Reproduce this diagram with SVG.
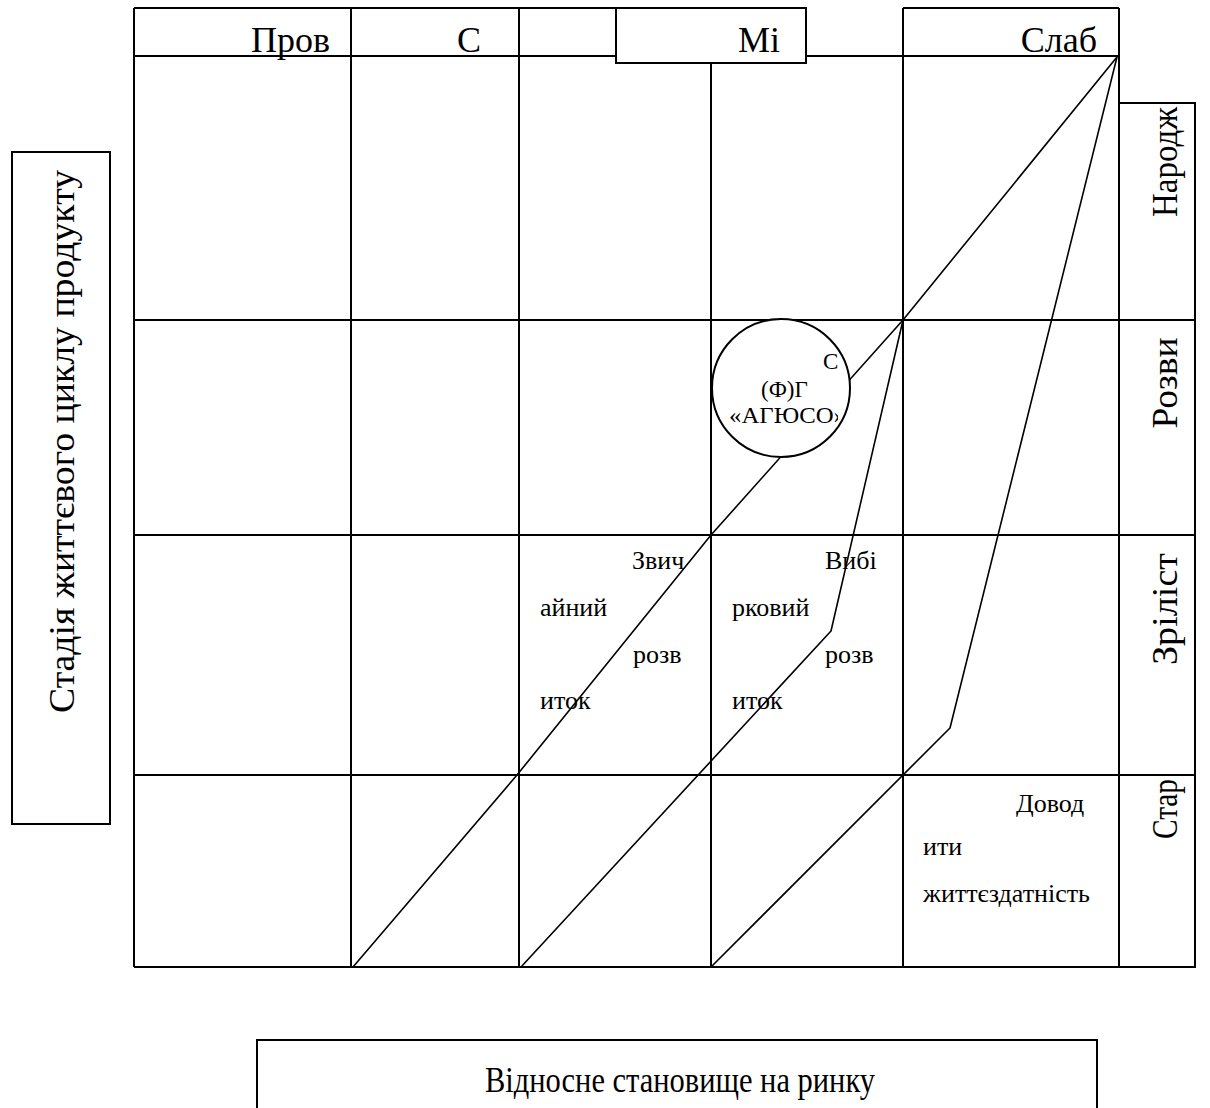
<svg xmlns="http://www.w3.org/2000/svg" width="1210" height="1108" viewBox="0 0 1210 1108">
<style>
.ln{stroke:#000;stroke-width:2;fill:none}
.dg{stroke:#000;stroke-width:1.6;fill:none;stroke-linejoin:round}
.bx{stroke:#000;stroke-width:2;fill:#fff}
.t{font-family:"Liberation Serif","Times New Roman",serif;fill:#000}
.h{font-size:36px}
.c{font-size:26px}
.s{font-size:23px}
</style>
<defs>
<clipPath id="cc"><rect x="700" y="320" width="138" height="140"/></clipPath>
</defs>
<rect width="1210" height="1108" fill="#fff"/>
<g id="grid">
<line class="ln" x1="134" y1="8" x2="616" y2="8"/>
<line class="ln" x1="134" y1="56" x2="1119" y2="56"/>
<line class="ln" x1="134" y1="320" x2="1195" y2="320"/>
<line class="ln" x1="134" y1="535" x2="1195" y2="535"/>
<line class="ln" x1="134" y1="775" x2="1195" y2="775"/>
<line class="ln" x1="134" y1="967" x2="1195" y2="967"/>
<line class="ln" x1="134" y1="8" x2="134" y2="967"/>
<line class="ln" x1="351" y1="8" x2="351" y2="967"/>
<line class="ln" x1="519" y1="8" x2="519" y2="967"/>
<line class="ln" x1="711" y1="63" x2="711" y2="967"/>
<line class="ln" x1="903" y1="8" x2="903" y2="967"/>
<line class="ln" x1="1119" y1="8" x2="1119" y2="967"/>
<line class="ln" x1="903" y1="8" x2="1119" y2="8"/>
<rect class="ln" x="1119" y="103" width="76" height="864"/>
</g>
<g id="connectors">
<polyline class="dg" points="1117,57 903,320 711,535 517,775 353,967"/>
<polyline class="dg" points="903,320 831,631 521,967"/>
<polyline class="dg" points="1117,57 950,728 711,967"/>
</g>
<g id="header-mi">
<rect class="bx" x="616" y="8" width="190" height="55"/>
<text class="t h" x="780" y="52" text-anchor="end">Мі</text>
</g>
<g id="header-prov"><text class="t h" x="330" y="52" text-anchor="end">Пров</text></g>
<g id="header-s"><text class="t h" x="481" y="52" text-anchor="end">С</text></g>
<g id="header-slab"><text class="t h" x="1097" y="52" text-anchor="end">Слаб</text></g>
<g id="stage-narodzh"><text class="t h" transform="translate(1177,162) rotate(-90)" text-anchor="middle" textLength="110" lengthAdjust="spacingAndGlyphs">Народж</text></g>
<g id="stage-rozvy"><text class="t h" transform="translate(1177,383) rotate(-90)" text-anchor="middle" textLength="91" lengthAdjust="spacingAndGlyphs">Розви</text></g>
<g id="stage-zrilist"><text class="t h" transform="translate(1177,609) rotate(-90)" text-anchor="middle" textLength="112" lengthAdjust="spacingAndGlyphs">Зріліст</text></g>
<g id="stage-star"><text class="t h" transform="translate(1177,809) rotate(-90)" text-anchor="middle" textLength="60" lengthAdjust="spacingAndGlyphs">Стар</text></g>
<g id="company">
<circle class="bx" cx="781" cy="388" r="69"/>
<g clip-path="url(#cc)">
<text class="t s" x="823" y="369">С</text>
<text class="t s" x="761" y="397">(Ф)Г</text>
<text class="t s" x="729" y="423" textLength="117" lengthAdjust="spacingAndGlyphs">«АГЮСО»</text>
</g>
</g>
<g id="usual">
<text class="t c" x="632" y="569">Звич</text>
<text class="t c" x="540" y="616">айний</text>
<text class="t c" x="633" y="663">розв</text>
<text class="t c" x="540" y="709">иток</text>
</g>
<g id="selective">
<text class="t c" x="825" y="569">Вибі</text>
<text class="t c" x="732" y="616">рковий</text>
<text class="t c" x="825" y="663">розв</text>
<text class="t c" x="732" y="709">иток</text>
</g>
<g id="sustain">
<text class="t c" x="1016" y="812">Довод</text>
<text class="t c" x="923" y="855">ити</text>
<text class="t c" x="923" y="902">життєздатність</text>
</g>
<g id="y-axis">
<rect class="ln" x="12" y="152" width="98" height="672"/>
<text class="t h" transform="translate(74,441.5) rotate(-90)" text-anchor="middle" textLength="543" lengthAdjust="spacingAndGlyphs">Стадія життєвого циклу продукту</text>
</g>
<g id="x-axis">
<rect class="ln" x="257" y="1040" width="840" height="90"/>
<text class="t h" x="485" y="1092" textLength="390" lengthAdjust="spacingAndGlyphs">Відносне становище на ринку</text>
</g>
</svg>
